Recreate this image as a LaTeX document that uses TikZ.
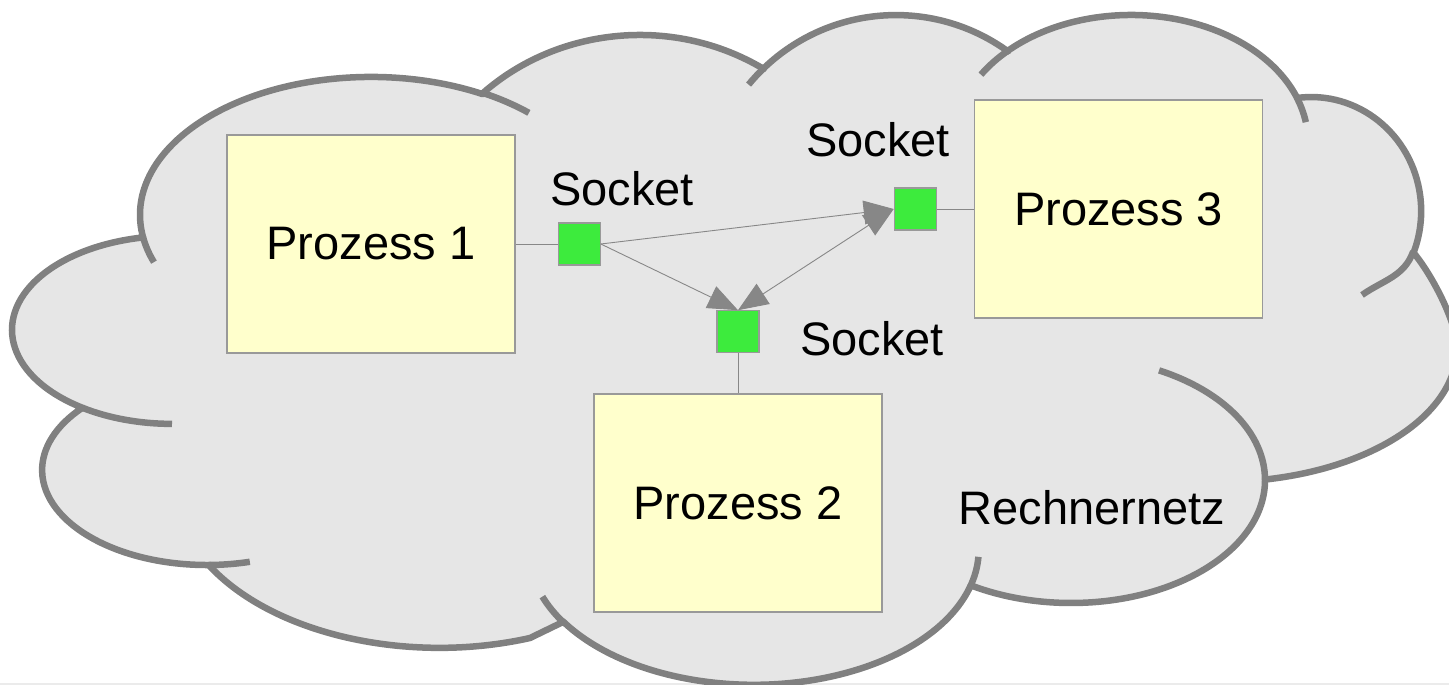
\documentclass[tikz,border=0pt]{standalone}
\usepackage{fontspec}
\setmainfont{Liberation Sans}
\usetikzlibrary{positioning,arrows.meta}

\definecolor{cloudfill}{HTML}{E6E6E6}
\definecolor{cloudline}{HTML}{808080}
\definecolor{boxfill}{HTML}{FFFFCC}
\definecolor{boxline}{HTML}{999999}
\definecolor{socketfill}{HTML}{3DEB3D}
\definecolor{linkgray}{HTML}{878787}

\begin{document}
\begin{tikzpicture}[
    x=1pt, y=1pt,
    netcloud/.style={fill=cloudfill, draw=cloudline, line width=6.5pt, line join=round},
    fold/.style={draw=cloudline, line width=6.5pt},
    process/.style={rectangle, draw=boxline, fill=boxfill, line width=1.2pt,
        minimum width=288pt, minimum height=218pt, inner sep=0pt,
        font=\fontsize{47}{56}\selectfont},
    socket/.style={rectangle, draw=boxline, fill=socketfill, line width=1.2pt,
        minimum size=42pt, inner sep=0pt},
    tag/.style={inner sep=0pt, font=\fontsize{47}{56}\selectfont},
    link/.style={draw=linkgray, line width=0.9pt},
    flow/.style={link, -{Triangle[length=30pt, width=24pt]}},
    twoway/.style={link, {Triangle[length=30pt, width=24pt]}-{Triangle[length=30pt, width=24pt]}}
]
\useasboundingbox (0,0) rectangle (1449,685);
\draw[black!8, line width=1.5pt] (0,1) -- (1449,1);

\coordinate (J01) at (143,448);
\coordinate (J02) at (483,592);
\coordinate (J03) at (764,617);
\coordinate (J04) at (1009,635);
\coordinate (J05) at (1297,587);
\coordinate (J06) at (1413,433);
\coordinate (J07) at (1265,205);
\coordinate (J08) at (970,98);
\coordinate (J09) at (563,63);
\coordinate (J10) at (210,120);
\coordinate (J11) at (83,277);

\path[netcloud] (J01)
  arc[start angle=189.2, end angle=61.1, x radius=231pt, y radius=138pt] -- (J02)
  arc[start angle=133, end angle=57.4, x radius=230pt, y radius=216pt] -- (J03)
  arc[start angle=133.7, end angle=54.1, radius=191pt] -- (J04)
  arc[start angle=133.6, end angle=20.3, x radius=177pt, y radius=127pt] -- (J05)
  arc[start angle=97.4, end angle=-21, x radius=110pt, y radius=114pt] -- (J06)
  .. controls +(-50:30) and +(90:25) .. (1457,337)
  arc[start angle=0, end angle=-79, x radius=237pt, y radius=134pt] -- (J07)
  arc[start angle=0, end angle=-121, x radius=194pt, y radius=123pt] -- (J08)
  arc[start angle=-16, end angle=-148, x radius=225pt, y radius=135pt] -- (J09)
  -- (530,47) arc[start angle=290, end angle=209.5, x radius=265pt, y radius=163pt] -- (J10)
  arc[start angle=271, end angle=139, x radius=165pt, y radius=95pt] -- (J11)
  arc[start angle=236.2, end angle=100.4, x radius=160pt, y radius=94pt] -- cycle;

\draw[fold] (J01) arc[start angle=189.2, end angle=200, x radius=231pt, y radius=138pt];
\draw[fold] (J02) arc[start angle=61.1, end angle=47, x radius=231pt, y radius=138pt];
\draw[fold] (J03) arc[start angle=133.7, end angle=140.5, radius=191pt];
\draw[fold] (J04) arc[start angle=133.6, end angle=148, x radius=177pt, y radius=127pt];
\draw[fold] (J05) arc[start angle=20.3, end angle=9, x radius=177pt, y radius=127pt];
\draw[fold] (J06) to[out=250, in=35] (1362,390);
\draw[fold] (J07) arc[start angle=0, end angle=63, x radius=194pt, y radius=123pt];
\draw[fold] (J08) arc[start angle=-16, end angle=-3, x radius=225pt, y radius=135pt];
\draw[fold] (J09) arc[start angle=-148, end angle=-160, x radius=225pt, y radius=135pt];
\draw[fold] (J10) arc[start angle=271, end angle=285, x radius=165pt, y radius=95pt];
\draw[fold] (J11) arc[start angle=236.2, end angle=270, x radius=160pt, y radius=94pt];

\node (Process1) [process] at (371,441) {Prozess 1};
\node (Process2) [process] at (738,182) {Prozess 2};
\node (Process3) [process] at (1118.5,476) {Prozess 3};
\node (Socket1) [socket, right=42pt of Process1] {};
\node (Socket2) [socket, above=40pt of Process2] {};
\node (Socket3) [socket, left=37pt of Process3] {};
\node (Tag1) [tag] at (622,496) {Socket};
\node (Tag2) [tag] at (872,346) {Socket};
\node (Tag3) [tag] at (878,545) {Socket};
\node (Net) [tag] at (1092,177) {Rechnernetz};

\draw[link] (Process1) -- (Socket1);
\draw[link] (Socket2) -- (Process2);
\draw[link] (Socket3) -- (Process3);
\draw[flow] (Socket1.east) -- (Socket3.west);
\draw[flow] (Socket1.east) -- (Socket2.north);
\draw[twoway] (Socket2.north) -- (Socket3.west);
\end{tikzpicture}
\end{document}
